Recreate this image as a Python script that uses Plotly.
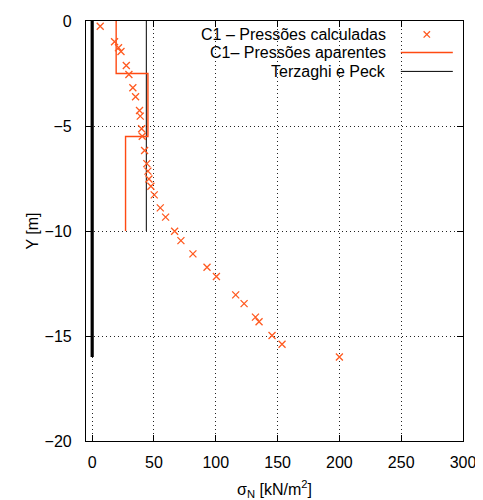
import plotly.graph_objects as go

# Data
calc_x = [6.5, 18.1, 21.3, 23.3, 27.6, 29.7, 32.9, 35.1, 38.3, 38.9, 40.0, 40.5,
          42.4, 44.2, 45.1, 45.9, 47.5, 50.2, 55.1, 59.4, 66.7, 71.8, 81.5, 92.9,
          100.5, 116.1, 122.9, 132.1, 135.0, 145.5, 153.6, 200.0]
calc_y = [-0.25, -0.99, -1.27, -1.45, -2.12, -2.55, -3.18, -3.61, -4.26, -4.53, -5.13, -5.49,
          -6.17, -6.79, -7.15, -7.52, -7.87, -8.28, -8.90, -9.34, -10.01, -10.46, -11.09, -11.73,
          -12.17, -13.04, -13.46, -14.10, -14.32, -14.98, -15.39, -16.0]
apar_x = [19.4, 19.4, 45.1, 45.1, 27.0, 27.0]
apar_y = [0.0, -2.5, -2.5, -5.5, -5.5, -10.0]
terz_x = [43.8, 43.8]
terz_y = [0.0, -10.0]
wall_x = [0.0, 0.0]
wall_y = [0.0, -16.0]

x_ticks = [0, 50, 100, 150, 200, 250, 300]
y_ticks = [0, -5, -10, -15, -20]

legend_labels = ["C1 \u2013 Pressões calculadas", "C1\u2013 Pressões aparentes", "Terzaghi e Peck"]

ORANGE_LINE = "#ff4a12"
ORANGE_MARK = "#ff5a20"
FONT = "Liberation Sans, Arial, Helvetica, sans-serif"

fig = go.Figure()
fig.add_trace(go.Scatter(x=wall_x, y=wall_y, mode="lines",
                         line=dict(color="black", width=3.2), showlegend=False))
fig.add_trace(go.Scatter(x=terz_x, y=terz_y, mode="lines",
                         line=dict(color="black", width=1), name=legend_labels[2], showlegend=False))
fig.add_trace(go.Scatter(x=apar_x, y=apar_y, mode="lines",
                         line=dict(color=ORANGE_LINE, width=1.4), name=legend_labels[1], showlegend=False))
fig.add_trace(go.Scatter(x=calc_x, y=calc_y, mode="markers",
                         marker=dict(symbol="x-thin-open", size=7, color=ORANGE_MARK,
                                     line=dict(color=ORANGE_MARK, width=1.3)),
                         name=legend_labels[0], showlegend=False))

# manual gnuplot-style key (text right-aligned, sample on right)
shapes = [dict(type="rect", xref="paper", yref="paper", x0=0.17, x1=1.0, y0=0.853, y1=1.0,
               fillcolor="white", line=dict(width=0), layer="between")]
annotations = []
rows_y = [0.968, 0.925, 0.880]
for lab, yy in zip(legend_labels, rows_y):
    annotations.append(dict(xref="paper", yref="paper", x=0.801, y=yy, text=lab,
                            showarrow=False, xanchor="right", yanchor="middle",
                            font=dict(family=FONT, size=16, color="black")))
# marker sample
mx, my = 0.904, rows_y[0]
dx, dy = 0.0085, 0.0075
shapes.append(dict(type="path", xref="paper", yref="paper",
                   path=f"M{mx-dx},{my-dy} L{mx+dx},{my+dy} M{mx-dx},{my+dy} L{mx+dx},{my-dy}",
                   line=dict(color=ORANGE_MARK, width=1.3)))
shapes.append(dict(type="line", xref="paper", yref="paper", x0=0.835, x1=0.973,
                   y0=rows_y[1], y1=rows_y[1], line=dict(color=ORANGE_LINE, width=1.4)))
shapes.append(dict(type="line", xref="paper", yref="paper", x0=0.835, x1=0.973,
                   y0=rows_y[2], y1=rows_y[2], line=dict(color="black", width=1)))

fig.update_layout(
    width=475, height=492,
    margin=dict(l=78, r=20, t=13, b=59),
    paper_bgcolor="white", plot_bgcolor="white",
    font=dict(family=FONT, size=16, color="black"),
    shapes=shapes, annotations=annotations,
    showlegend=False,
)
GRID = dict(showgrid=True, gridcolor="#222", griddash="1px,3px", gridwidth=1, zeroline=False)
fig.update_xaxes(range=[-5, 300], tickvals=x_ticks, ticks="inside", ticklen=6,
                 tickcolor="black", showline=True, linecolor="black", linewidth=1.2,
                 mirror="ticks", automargin=False, **GRID,
                 title=dict(text="σ<sub>N</sub> [kN/m<sup>2</sup>]", standoff=14,
                            font=dict(size=16)),
                 tickfont=dict(size=16), ticklabelstandoff=7)
fig.update_yaxes(range=[-20, 0], tickvals=y_ticks, ticks="inside", ticklen=6,
                 tickcolor="black", showline=True, linecolor="black", linewidth=1.2,
                 mirror="ticks", automargin=False, **GRID,
                 title=dict(text="Y [m]", standoff=1, font=dict(size=16)),
                 tickfont=dict(size=16), ticklabelstandoff=10)

fig.write_html("out.html")
